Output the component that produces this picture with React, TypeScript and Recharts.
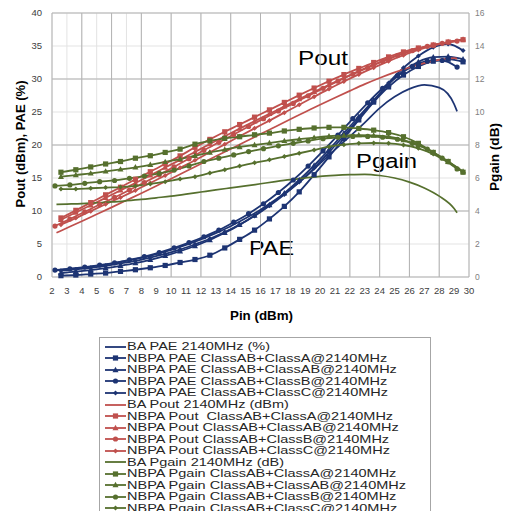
import React from "react";
import {
  LineChart, Line, XAxis, YAxis, CartesianGrid, ReferenceLine, Customized,
} from "recharts";

// ---- data ----
const pinTicks = [2, 3, 4, 5, 6, 7, 8, 9, 10, 11, 12, 13, 14, 15, 16, 17, 18, 19, 20, 21, 22, 23, 24, 25, 26, 27, 28, 29, 30];
const leftTicks = [0, 5, 10, 15, 20, 25, 30, 35, 40];
const rightTicks = [0, 2, 4, 6, 8, 10, 12, 14, 16];

// BA (reference amplifier) sweep
const baPins = [2.3, 3, 4, 5, 6, 7, 8, 9, 10, 11, 12, 13, 14, 15, 16, 17, 18, 19, 20, 21, 22, 23, 24, 25, 26, 27, 28, 29, 29.2];
const baPae = [1.0, 1.15, 1.4, 1.7, 2.05, 2.45, 2.9, 3.45, 4.1, 4.85, 5.7, 6.65, 7.7, 8.9, 10.2, 11.7, 13.3, 15.1, 17.2, 19.3, 21.3, 23.4, 25.6, 27.3, 28.5, 29.1, 28.7, 26.2, 25.1];
const baPout = [6.7, 7.42, 8.45, 9.5, 10.55, 11.62, 12.7, 13.8, 14.9, 16.02, 17.15, 18.28, 19.4, 20.52, 21.65, 22.78, 23.9, 25.0, 26.1, 27.16, 28.2, 29.22, 30.15, 31.0, 31.75, 32.4, 32.9, 33.15, 33.1];
const baGain = [4.4, 4.42, 4.45, 4.5, 4.55, 4.62, 4.7, 4.8, 4.9, 5.02, 5.15, 5.28, 5.4, 5.52, 5.65, 5.78, 5.9, 6.0, 6.1, 6.16, 6.2, 6.22, 6.15, 6.0, 5.75, 5.4, 4.9, 4.15, 3.9];

// NBPA sweeps
const pinsA = [2.6, 3.6, 4.6, 5.6, 6.6, 7.6, 8.6, 9.6, 10.6, 11.6, 12.6, 13.6, 14.6, 15.6, 16.6, 17.6, 18.6, 19.6, 20.6, 21.6, 22.6, 23.6, 24.6, 25.6, 26.6, 27.6, 28.6, 29.6];
const pinsB = [2.2, 3.2, 4.2, 5.2, 6.2, 7.2, 8.2, 9.2, 10.2, 11.2, 12.2, 13.2, 14.2, 15.2, 16.2, 17.2, 18.2, 19.2, 20.2, 21.2, 22.2, 23.2, 24.2, 25.2, 26.2, 27.2, 28.2, 29.2];

const paeA = [0.2, 0.3, 0.45, 0.6, 0.85, 1.1, 1.4, 1.75, 2.2, 2.65, 3.3, 4.4, 5.7, 7.1, 8.8, 10.7, 12.9, 15.5, 18.2, 21.0, 23.8, 26.5, 28.8, 30.6, 31.9, 32.7, 33.0, 32.6];
const paeAB = [0.6, 0.8, 1.05, 1.35, 1.7, 2.1, 2.6, 3.2, 3.9, 4.7, 5.6, 6.7, 7.9, 9.3, 10.9, 12.7, 14.7, 16.9, 19.3, 21.8, 24.3, 26.8, 29.2, 31.2, 32.6, 33.3, 33.4, 33.0];
const paeB = [1.05, 1.25, 1.5, 1.8, 2.15, 2.6, 3.1, 3.7, 4.4, 5.2, 6.1, 7.1, 8.3, 9.6, 11.1, 12.8, 14.7, 16.8, 19.1, 21.5, 24.0, 26.4, 28.6, 30.5, 31.9, 32.7, 32.8, 31.8];
const paeC = [0.95, 1.15, 1.4, 1.7, 2.05, 2.45, 2.95, 3.5, 4.15, 4.95, 5.8, 6.8, 7.95, 9.25, 10.8, 12.5, 14.4, 16.5, 18.9, 21.4, 24.0, 26.6, 29.4, 31.7, 33.5, 34.8, 35.3, 34.3];

const poutA = [8.95, 10.1, 11.27, 12.45, 13.6, 14.8, 15.95, 17.15, 18.35, 19.65, 20.85, 22.0, 23.1, 24.22, 25.32, 26.45, 27.55, 28.63, 29.67, 30.67, 31.6, 32.5, 33.35, 34.1, 34.7, 35.15, 35.6, 35.95];
const poutAB = [8.68, 9.78, 10.88, 12.0, 13.12, 14.25, 15.4, 16.58, 17.75, 18.95, 20.15, 21.32, 22.48, 23.6, 24.72, 25.85, 26.95, 28.05, 29.13, 30.18, 31.2, 32.18, 33.1, 33.9, 34.6, 35.15, 35.6, 36.0];
const poutB = [7.72, 8.78, 9.88, 10.98, 12.05, 13.18, 14.32, 15.48, 16.68, 17.93, 19.2, 20.4, 21.6, 22.8, 23.98, 25.15, 26.3, 27.45, 28.58, 29.67, 30.72, 31.72, 32.67, 33.55, 34.3, 34.95, 35.4, 35.75];
const poutC = [7.93, 8.93, 9.98, 11.02, 12.05, 13.12, 14.24, 15.38, 16.54, 17.68, 18.9, 20.1, 21.32, 22.52, 23.7, 24.9, 26.1, 27.3, 28.5, 29.62, 30.7, 31.72, 32.7, 33.6, 34.4, 35.05, 35.55, 35.95];

const gainA = [6.35, 6.5, 6.67, 6.85, 7.0, 7.2, 7.35, 7.55, 7.75, 8.05, 8.25, 8.4, 8.5, 8.62, 8.72, 8.85, 8.95, 9.03, 9.07, 9.07, 9.0, 8.9, 8.75, 8.5, 8.1, 7.55, 7.0, 6.35];
const gainAB = [6.08, 6.18, 6.28, 6.4, 6.52, 6.65, 6.8, 6.98, 7.15, 7.35, 7.55, 7.72, 7.88, 8.0, 8.12, 8.25, 8.35, 8.45, 8.53, 8.58, 8.6, 8.58, 8.5, 8.3, 8.0, 7.55, 7.0, 6.4];
const gainB = [5.52, 5.58, 5.68, 5.78, 5.85, 5.98, 6.12, 6.28, 6.48, 6.73, 7.0, 7.2, 7.4, 7.6, 7.78, 7.95, 8.1, 8.25, 8.38, 8.47, 8.52, 8.52, 8.47, 8.35, 8.1, 7.75, 7.2, 6.55];
const gainC = [5.33, 5.33, 5.38, 5.42, 5.45, 5.52, 5.64, 5.78, 5.94, 6.08, 6.3, 6.5, 6.72, 6.92, 7.1, 7.3, 7.5, 7.7, 7.9, 8.02, 8.1, 8.12, 8.1, 8.0, 7.8, 7.45, 6.95, 6.35];

const NAVY = "#1d3473";
const RED = "#c0504d";
const GREEN = "#56702e";
const FONT = "'Liberation Sans', Arial, sans-serif";

type Shape = "none" | "square" | "triangle" | "circle" | "diamond";

const zip = (pins: number[], vals: number[]) => pins.map((pin, i) => ({ pin, v: vals[i] }));

const series = [
  { name: "BA PAE 2140MHz (%)", color: NAVY, shape: "none", axis: "left", data: zip(baPins, baPae) },
  { name: "NBPA PAE ClassAB+ClassA@2140MHz", color: NAVY, shape: "square", axis: "left", data: zip(pinsA, paeA) },
  { name: "NBPA PAE ClassAB+ClassAB@2140MHz", color: NAVY, shape: "triangle", axis: "left", data: zip(pinsA, paeAB) },
  { name: "NBPA PAE ClassAB+ClassB@2140MHz", color: NAVY, shape: "circle", axis: "left", data: zip(pinsB, paeB) },
  { name: "NBPA PAE ClassAB+ClassC@2140MHz", color: NAVY, shape: "diamond", axis: "left", data: zip(pinsA, paeC) },
  { name: "BA Pout 2140MHz (dBm)", color: RED, shape: "none", axis: "left", data: zip(baPins, baPout) },
  { name: "NBPA Pout  ClassAB+ClassA@2140MHz", color: RED, shape: "square", axis: "left", data: zip(pinsA, poutA) },
  { name: "NBPA Pout ClassAB+ClassAB@2140MHz", color: RED, shape: "triangle", axis: "left", data: zip(pinsA, poutAB) },
  { name: "NBPA Pout ClassAB+ClassB@2140MHz", color: RED, shape: "circle", axis: "left", data: zip(pinsB, poutB) },
  { name: "NBPA Pout ClassAB+ClassC@2140MHz", color: RED, shape: "diamond", axis: "left", data: zip(pinsA, poutC) },
  { name: "BA Pgain 2140MHz (dB)", color: GREEN, shape: "none", axis: "right", data: zip(baPins, baGain) },
  { name: "NBPA Pgain ClassAB+ClassA@2140MHz", color: GREEN, shape: "square", axis: "right", data: zip(pinsA, gainA) },
  { name: "NBPA Pgain ClassAB+ClassAB@2140MHz", color: GREEN, shape: "triangle", axis: "right", data: zip(pinsA, gainAB) },
  { name: "NBPA Pgain ClassAB+ClassB@2140MHz", color: GREEN, shape: "circle", axis: "right", data: zip(pinsB, gainB) },
  { name: "NBPA Pgain ClassAB+ClassC@2140MHz", color: GREEN, shape: "diamond", axis: "right", data: zip(pinsA, gainC) },
];

function Marker({ cx, cy, shape, color }: { cx: number; cy: number; shape: Shape; color: string }) {
  if (cx == null || cy == null) return null;
  switch (shape) {
    case "square":
      return <rect x={cx - 2.6} y={cy - 2.6} width={5.2} height={5.2} fill={color} />;
    case "triangle":
      return <polygon points={`${cx},${cy - 3.2} ${cx + 3},${cy + 2.2} ${cx - 3},${cy + 2.2}`} fill={color} />;
    case "circle":
      return <circle cx={cx} cy={cy} r={2.6} fill={color} />;
    case "diamond":
      return <polygon points={`${cx},${cy - 2.5} ${cx + 2.5},${cy} ${cx},${cy + 2.5} ${cx - 2.5},${cy}`} fill={color} />;
    default:
      return null;
  }
}

function Titles() {
  const bold = { fontFamily: FONT, fontWeight: 700, fill: "#000" };
  return (
    <g>
      <text transform="translate(21,144) rotate(-90)" textAnchor="middle" dominantBaseline="central"
        fontSize={12} textLength={127} lengthAdjust="spacingAndGlyphs" style={bold}>Pout (dBm), PAE (%)</text>
      <text transform="translate(495,157) rotate(-90)" textAnchor="middle" dominantBaseline="central"
        fontSize={12} textLength={68} lengthAdjust="spacingAndGlyphs" style={bold}>Pgain (dB)</text>
      <text x={230} y={320} fontSize={12.5} textLength={63} lengthAdjust="spacingAndGlyphs" style={bold}>Pin (dBm)</text>
      <text x={298} y={65} fontSize={20.5} textLength={50} lengthAdjust="spacingAndGlyphs"
        style={{ fontFamily: FONT, fill: "#000" }}>Pout</text>
      <text x={356} y={168} fontSize={20.5} textLength={61} lengthAdjust="spacingAndGlyphs"
        style={{ fontFamily: FONT, fill: "#000" }}>Pgain</text>
      <text x={249} y={255} fontSize={20.5} textLength={45} lengthAdjust="spacingAndGlyphs"
        style={{ fontFamily: FONT, fill: "#000" }}>PAE</text>
    </g>
  );
}

function LegendSample({ color, shape }: { color: string; shape: Shape }) {
  return (
    <svg width={22} height={10} style={{ display: "block", flexShrink: 0 }}>
      <line x1={0} y1={5} x2={21} y2={5} stroke={color} strokeWidth={1.8} />
      <Marker cx={10.5} cy={5} shape={shape} color={color} />
    </svg>
  );
}

export default function App() {
  return (
    <div style={{ position: "absolute", left: 0, top: 0, width: 506, height: 511, overflow: "hidden", background: "#fff" }}>
      <LineChart width={506} height={330} margin={{ top: 13, right: 7, bottom: 28, left: 8 }}>
        <CartesianGrid yAxisId="left" stroke="#e3e3e3" strokeWidth={1} />
        <XAxis dataKey="pin" type="number" domain={[2, 30]} ticks={pinTicks} allowDuplicatedCategory={false}
          axisLine={false} tickLine={false} tickMargin={4} height={25}
          tick={{ fontSize: 9.5, fill: "#404040", fontFamily: FONT }} />
        <YAxis yAxisId="left" domain={[0, 40]} ticks={leftTicks} axisLine={false} tickLine={false}
          width={44} tickMargin={4} tick={{ fontSize: 9.5, fill: "#404040", fontFamily: FONT }} />
        <YAxis yAxisId="right" orientation="right" domain={[0, 16]} ticks={rightTicks} axisLine={false} tickLine={false}
          width={30} tickMargin={0} tick={{ fontSize: 8.5, fill: "#808080", fontFamily: FONT }} />
        {pinTicks.filter((t) => t % 2 === 0).map((t) => (
          <ReferenceLine key={"x" + t} x={t} yAxisId="left" stroke="#b3b3b3" strokeWidth={1} />
        ))}
        {leftTicks.filter((t) => t % 10 === 0).map((t) => (
          <ReferenceLine key={"y" + t} y={t} yAxisId="left" stroke="#b3b3b3" strokeWidth={1} />
        ))}
        {series.map((s) => (
          <Line
            key={s.name}
            data={s.data}
            dataKey="v"
            yAxisId={s.axis}
            type="monotone"
            stroke={s.color}
            strokeWidth={s.shape === "none" ? 1.7 : 1.8}
            isAnimationActive={false}
            dot={(p: any) => <Marker key={p.index} cx={p.cx} cy={p.cy} shape={s.shape as Shape} color={s.color} />}
            activeDot={false}
          />
        ))}
        <Customized component={<Titles />} />
      </LineChart>

      {/* Legend */}
      <div style={{
        position: "absolute", left: 99, top: 337, width: 332, height: 200,
        border: "1px solid #a6a6a6", boxSizing: "border-box", fontFamily: FONT, paddingTop: 3,
      }}>
        {series.map((s) => (
          <div key={s.name} style={{ display: "flex", alignItems: "center", height: 11.55, paddingLeft: 5 }}>
            <LegendSample color={s.color} shape={s.shape as Shape} />
            <span style={{
              fontSize: 10.5, color: "#262626", whiteSpace: "pre", display: "inline-block",
              transform: "scaleX(1.38)", transformOrigin: "left center", lineHeight: "11px",
            }}>{s.name}</span>
          </div>
        ))}
      </div>
    </div>
  );
}
